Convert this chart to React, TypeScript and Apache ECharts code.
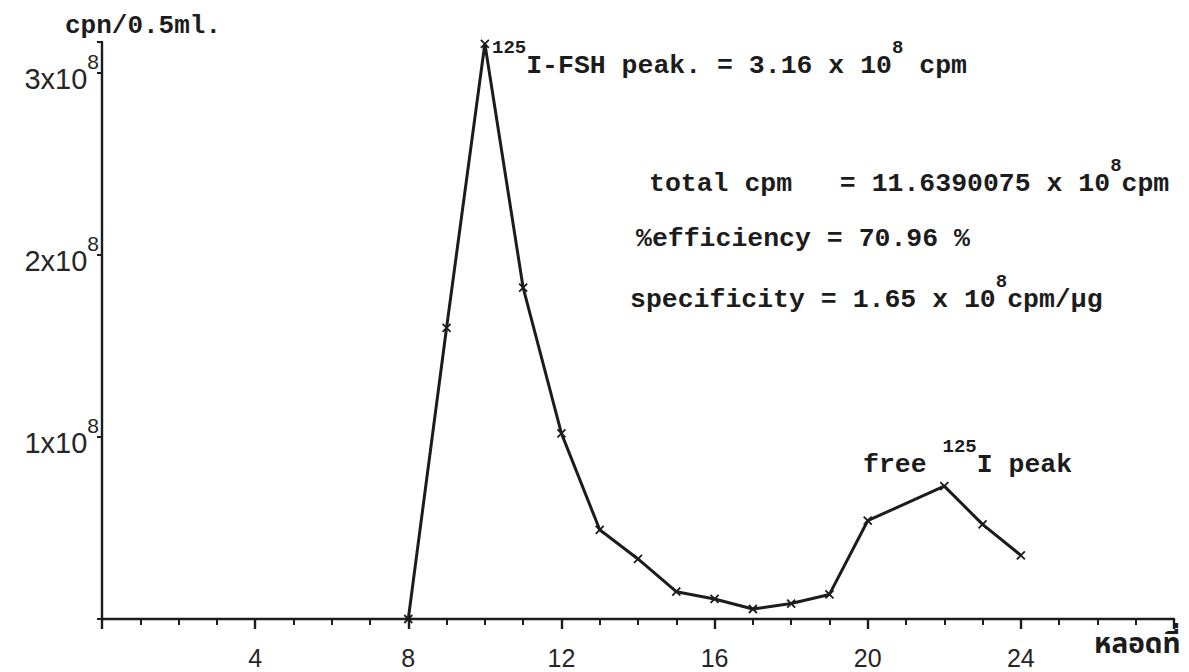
import React, { useEffect, useRef } from "react";
import * as echarts from "echarts";

// fraction number (tube no.) and radioactivity in units of 10^8 cpm / 0.5 ml
const fractions = [8, 9, 10, 11, 12, 13, 14, 15, 16, 17, 18, 19, 20, 22, 23, 24];
const cpmE8 = [0, 1.6, 3.16, 1.82, 1.02, 0.49, 0.33, 0.15, 0.11, 0.055, 0.085, 0.135, 0.54, 0.73, 0.52, 0.35];
const xTickLabels = [4, 8, 12, 16, 20, 24];
const yTickLabels = [1, 2, 3];

const mono = "'Liberation Mono', 'DejaVu Sans Mono', monospace";
const sans = "'Liberation Sans', Arial, sans-serif";
const ink = "#1c1c1c";

const richMono = {
  m: { fontFamily: mono, fontSize: 26.5, fontWeight: "bold", color: ink, lineHeight: 30, verticalAlign: "bottom" },
  s: { fontFamily: mono, fontSize: 19, fontWeight: "bold", color: ink, lineHeight: 20, padding: [0, 0, 22, 0], verticalAlign: "bottom" },
};

function txt(x: number, y: number, text: string) {
  return {
    type: "text",
    left: x,
    top: y,
    style: { text, rich: richMono, fill: ink },
  };
}

export default function App() {
  const ref = useRef<HTMLDivElement>(null);
  useEffect(() => {
    if (!ref.current) return;
    const chart = echarts.init(ref.current, null, { renderer: "svg" });
    chart.setOption({
      animation: false,
      backgroundColor: "#ffffff",
      grid: { left: 102, right: 15, top: 42, bottom: 53 },
      xAxis: {
        type: "value",
        min: 0,
        max: 28,
        interval: 4,
        axisLine: { lineStyle: { color: ink, width: 2.4 } },
        axisTick: { show: true, length: 10, lineStyle: { color: ink, width: 2.4 } },
        minorTick: { show: true, splitNumber: 4, length: 6, lineStyle: { color: ink, width: 2 } },
        splitLine: { show: false },
        axisLabel: {
          formatter: (v: number) => (xTickLabels.includes(v) ? String(v) : ""),
          margin: 26,
          fontFamily: sans,
          fontSize: 25,
          color: "#262626",
        },
      },
      yAxis: {
        type: "value",
        min: 0,
        max: 3.17,
        interval: 1,
        axisLine: { show: true, lineStyle: { color: ink, width: 2.4 } },
        axisTick: { show: true, length: 5, lineStyle: { color: ink, width: 2 } },
        splitLine: { show: false },
        axisLabel: {
          margin: 3,
          padding: [12, 0, 0, 0],
          formatter: (v: number) => (yTickLabels.includes(v) ? `{b|${v}x10}{s|8}` : ""),
          rich: {
            b: { fontFamily: sans, fontSize: 29, color: "#262626", lineHeight: 30, verticalAlign: "bottom" },
            s: { fontFamily: sans, fontSize: 21, color: "#262626", lineHeight: 21, padding: [0, 0, 22, 0], verticalAlign: "bottom" },
          },
        },
      },
      series: [
        {
          type: "line",
          data: fractions.map((f, i) => [f, cpmE8[i]]),
          symbol: "path://M0,0L10,10M10,0L0,10",
          symbolSize: 8,
          lineStyle: { color: ink, width: 3 },
          itemStyle: { color: ink, borderColor: ink, borderWidth: 1.8 },
        },
      ],
      graphic: [
        {
          type: "text",
          left: 65,
          top: 13,
          style: {
            text: "cpn/0.5ml.",
            fontFamily: mono,
            fontSize: 26,
            fontWeight: "bold",
            fill: ink,
          },
        },
        txt(492, 38, "{s|125}{m|I-FSH peak. = 3.16 x 10}{s|8}{m| cpm}"),
        txt(649, 156, "{m|total cpm   = 11.6390075 x 10}{s|8}{m|cpm}"),
        txt(636, 225, "{m|%efficiency = 70.96 %}"),
        txt(630, 272, "{m|specificity = 1.65 x 10}{s|8}{m|cpm/µg}"),
        txt(863, 437, "{m|free }{s|125}{m|I peak}"),
        {
          type: "text",
          left: 1094,
          top: 630,
          style: {
            text: "หลอดที่",
            fontFamily: "'Noto Sans Thai', 'Noto Sans', 'DejaVu Sans', sans-serif",
            fontSize: 28,
            fontWeight: "bold",
            fill: ink,
          },
        },
      ],
    });
    return () => chart.dispose();
  }, []);
  return (
    <div
      ref={ref}
      style={{ position: "fixed", left: 0, top: 0, width: 1189, height: 672, background: "#fff" }}
    />
  );
}
